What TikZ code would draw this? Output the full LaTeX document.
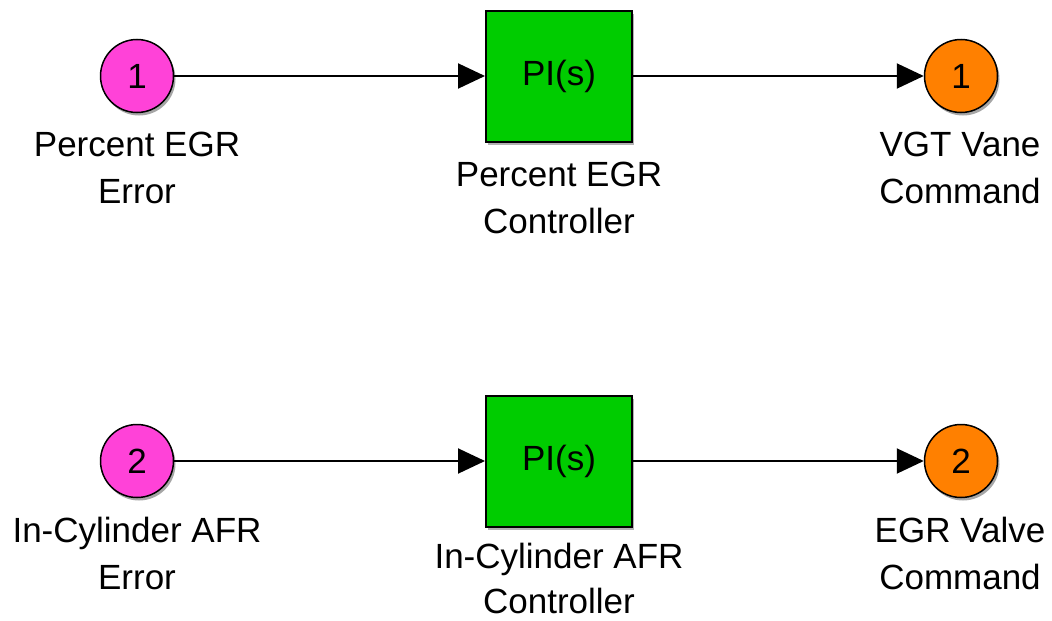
\documentclass[tikz,border=0pt]{standalone}
\usepackage{fontspec}
\setmainfont{Liberation Sans}
\usetikzlibrary{arrows.meta,shadows}
\definecolor{inport}{RGB}{255,66,216}
\definecolor{outport}{RGB}{255,128,0}
\definecolor{blockgreen}{RGB}{0,204,0}
\tikzset{
  port/.style={circle, draw=black, line width=1.5pt, minimum size=73pt, inner sep=0pt,
    font=\fontsize{35}{47}\selectfont,
    drop shadow={shadow xshift=2pt, shadow yshift=-3pt, opacity=0.35, fill=black}},
  inport/.style={port, fill=inport},
  outport/.style={port, fill=outport},
  piblock/.style={rectangle, draw=black, line width=2pt, fill=blockgreen,
    minimum width=146pt, minimum height=131pt, inner sep=0pt,
    font=\fontsize{35}{47}\selectfont,
    drop shadow={shadow xshift=2pt, shadow yshift=-3pt, opacity=0.3, fill=black}},
  lbl/.style={anchor=north, align=center, inner sep=0pt, font=\fontsize{35}{47}\selectfont},
  sig/.style={line width=2pt, -{Triangle[length=27pt,width=25pt]}}
}
\begin{document}
\begin{tikzpicture}[x=1pt,y=-1pt]
\useasboundingbox (0,0) rectangle (1052,621);
\fill[white] (0,0) rectangle (1052,621);
% top row
\node[inport] (in1) at (137,76) {1};
\node[piblock] (pi1) at (559,76) {PI(s)};
\node[outport] (out1) at (961,76) {1};
\draw[sig] (in1) -- (pi1);
\draw[sig] (pi1) -- (out1);
\node[lbl] (lin1) at (137,132) {Percent EGR\\Error};
\node[lbl] (lpi1) at (559,162) {Percent EGR\\Controller};
\node[lbl] (lout1) at (960,132) {VGT Vane\\Command};
% bottom row
\node[inport] (in2) at (137,461) {2};
\node[piblock] (pi2) at (559,461) {PI(s)};
\node[outport] (out2) at (961,461) {2};
\draw[sig] (in2) -- (pi2);
\draw[sig] (pi2) -- (out2);
\node[lbl] (lin2) at (137,517) {In-Cylinder AFR\\Error};
\node[lbl, font=\fontsize{35}{45}\selectfont] (lpi2) at (559,543) {In-Cylinder AFR\\Controller};
\node[lbl] (lout2) at (960,517) {EGR Valve\\Command};
\end{tikzpicture}
\end{document}
